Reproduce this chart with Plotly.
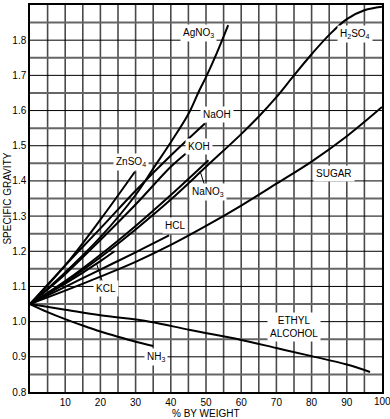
import plotly.graph_objects as go

# ---- data ----
agno3_x = [0, 10, 20, 30, 35, 40, 45, 48, 50, 53, 56.3]
agno3_y = [1.05, 1.14, 1.24, 1.36, 1.435, 1.51, 1.59, 1.655, 1.695, 1.762, 1.843]

znso4_x = [0, 10, 20, 29.8]
znso4_y = [1.05, 1.16, 1.29, 1.426]

naoh_x = [0, 10, 20, 30, 40, 49.7]
naoh_y = [1.05, 1.16, 1.265, 1.372, 1.472, 1.563]

koh_x = [0, 10, 20, 30, 40, 44.3]
koh_y = [1.05, 1.135, 1.232, 1.333, 1.44, 1.478]

nano3_x = [0, 10, 20, 30, 40, 50.7]
nano3_y = [1.05, 1.115, 1.19, 1.272, 1.36, 1.459]

h2so4_x = [0, 10, 20, 30, 40, 50, 60, 65, 70, 75, 80, 85, 90, 95, 100]
h2so4_y = [1.05, 1.112, 1.183, 1.262, 1.347, 1.44, 1.533, 1.583, 1.638, 1.70, 1.76, 1.815, 1.86, 1.885, 1.895]

sugar_x = [0, 10, 20, 30, 40, 50, 60, 70, 80, 90, 100]
sugar_y = [1.05, 1.088, 1.128, 1.17, 1.218, 1.272, 1.33, 1.392, 1.455, 1.527, 1.61]

hcl_x = [0, 10, 20, 30, 39.5]
hcl_y = [1.05, 1.099, 1.148, 1.197, 1.245]

kcl_x = [0, 10, 20, 24]
kcl_y = [1.05, 1.108, 1.172, 1.2]

alcohol_x = [0, 10, 20, 34, 45.5, 60, 70, 80, 90, 96.6]
alcohol_y = [1.05, 1.034, 1.018, 1.0, 0.976, 0.948, 0.925, 0.902, 0.878, 0.857]

nh3_x = [0, 5, 10, 15, 20, 25, 30, 35]
nh3_y = [1.05, 1.027, 1.007, 0.989, 0.972, 0.957, 0.943, 0.931]

curves = [
    (agno3_x, agno3_y), (znso4_x, znso4_y), (naoh_x, naoh_y), (koh_x, koh_y),
    (nano3_x, nano3_y), (h2so4_x, h2so4_y), (sugar_x, sugar_y), (hcl_x, hcl_y),
    (kcl_x, kcl_y), (alcohol_x, alcohol_y), (nh3_x, nh3_y),
]

label_text = ["AgNO<sub>3</sub>", "H<sub>2</sub>SO<sub>4</sub>", "NaOH", "KOH", "NaNO<sub>3</sub>",
              "ZnSO<sub>4</sub>", "SUGAR", "HCL", "KCL", "ETHYL<br>ALCOHOL", "NH<sub>3</sub>"]
label_x = [48.0, 92.3, 53.0, 48.0, 50.6, 28.7, 86.4, 41.2, 21.6, 75.0, 35.8]
label_y = [1.82, 1.817, 1.59, 1.499, 1.368, 1.453, 1.422, 1.272, 1.093, 0.985, 0.90]

leader_nano3_x = [49.7, 48.3]
leader_nano3_y = [1.385, 1.428]
leader_kcl_x = [20.6, 18.9]
leader_kcl_y = [1.113, 1.165]

x_ticks = [10, 20, 30, 40, 50, 60, 70, 80, 90]
x_last_tick = 100
y_ticks = [0.8, 0.9, 1.0, 1.1, 1.2, 1.3, 1.4, 1.5, 1.6, 1.7, 1.8, 1.9]
x_grid = [5 * i for i in range(1, 20)]
y_grid_major = [0.9, 1.0, 1.1, 1.2, 1.3, 1.4, 1.5, 1.6, 1.7, 1.8]
y_grid_minor = [0.85, 0.95, 1.05, 1.15, 1.25, 1.35, 1.45, 1.55, 1.65, 1.75, 1.85]

FONT = "Liberation Sans, Arial, Helvetica, sans-serif"

fig = go.Figure()

# grid as shapes (below traces)
for gx in x_grid:
    fig.add_shape(type="line", xref="x", yref="paper", x0=gx, x1=gx, y0=0, y1=1,
                  line=dict(color="#4a4a4a", width=1.6), layer="below")
for gy in y_grid_minor:
    fig.add_shape(type="line", xref="paper", yref="y", x0=0, x1=1, y0=gy, y1=gy,
                  line=dict(color="#666666", width=2), layer="below")
for gy in y_grid_major:
    fig.add_shape(type="line", xref="paper", yref="y", x0=0, x1=1, y0=gy, y1=gy,
                  line=dict(color="black", width=1), layer="below")

for cx, cy in curves:
    fig.add_trace(go.Scatter(x=cx, y=cy, mode="lines",
                             line=dict(color="black", width=2, shape="spline", smoothing=1.0),
                             hoverinfo="skip", showlegend=False))
for lx, ly in [(leader_nano3_x, leader_nano3_y), (leader_kcl_x, leader_kcl_y)]:
    fig.add_trace(go.Scatter(x=lx, y=ly, mode="lines", line=dict(color="black", width=1),
                             hoverinfo="skip", showlegend=False))

for t, x, y in zip(label_text, label_x, label_y):
    fig.add_annotation(x=x, y=y, text=t, showarrow=False, bgcolor="white", borderpad=2,
                       font=dict(family=FONT, size=10, color="black"))

# last x tick label (would be hidden by plotly at the page edge)
fig.add_annotation(x=x_last_tick, xref="x", yref="paper", y=0, yanchor="top", yshift=-2,
                   text=str(x_last_tick), showarrow=False,
                   font=dict(family=FONT, size=10, color="black"))

fig.add_annotation(xref="paper", yref="paper", x=0.5, y=-0.056, text="% BY WEIGHT",
                   showarrow=False, yanchor="middle", font=dict(family=FONT, size=10, color="black"))
fig.add_annotation(xref="paper", yref="paper", x=-0.065, y=0.5, text="SPECIFIC GRAVITY",
                   textangle=-90, showarrow=False, xanchor="center",
                   font=dict(family=FONT, size=10, color="black"))

fig.update_xaxes(range=[0, 100], tickvals=x_ticks, ticks="", showgrid=False, zeroline=False,
                 showline=True, linecolor="black", linewidth=1.5, mirror=True,
                 tickfont=dict(family=FONT, size=10, color="black"), automargin=False)
fig.update_yaxes(range=[0.8, 1.9], tickvals=y_ticks, tickformat=".1f", ticks="",
                 showgrid=False, zeroline=False,
                 showline=True, linecolor="black", linewidth=1.5, mirror=True,
                 tickfont=dict(family=FONT, size=10, color="black"), automargin=False)

fig.update_layout(width=390, height=419, margin=dict(l=30, r=8, t=5, b=27),
                  plot_bgcolor="white", paper_bgcolor="white")
fig.write_html("out.html", config={"displayModeBar": False},
               post_script="document.body.style.margin='0';document.body.style.padding='0';")
